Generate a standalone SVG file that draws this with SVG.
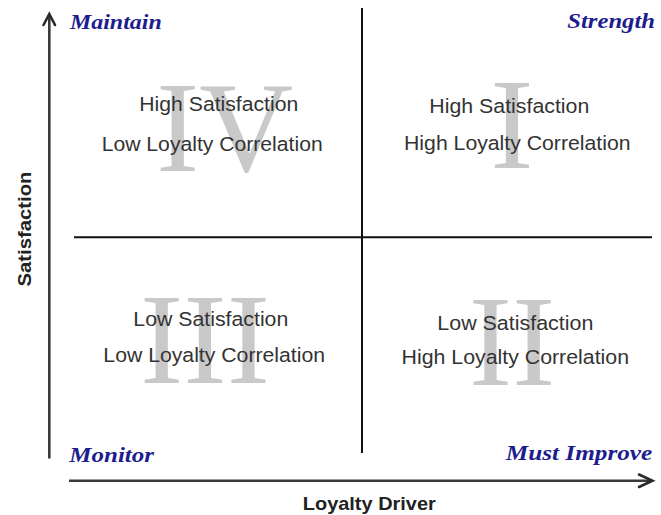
<svg xmlns="http://www.w3.org/2000/svg" width="661" height="515" viewBox="0 0 661 515">
  <defs>
    <style>
      .axis { stroke: #3a3a3a; stroke-width: 2.6; fill: none; }
      .divider { stroke: #111; stroke-width: 2; fill: none; }
      .head { stroke: #2a2a2a; stroke-width: 2.6; fill: none; stroke-linecap: round; stroke-linejoin: miter; }
      .numeral { font-family: "Liberation Serif", "Times New Roman", serif; font-size: 130px; fill: #c9c9c9; text-anchor: middle; }
      .desc { font-family: "Liberation Sans", Arial, sans-serif; font-size: 20.5px; fill: #333; text-anchor: middle; }
      .corner { font-family: "Liberation Serif", "Times New Roman", serif; font-size: 21px; font-weight: bold; font-style: italic; fill: #1d1d8e; }
      .title { font-family: "Liberation Sans", Arial, sans-serif; font-size: 19px; font-weight: bold; fill: #222; text-anchor: middle; }
    </style>
  </defs>
  <rect width="661" height="515" fill="#fff"/>

  <!-- Axes and quadrant dividers -->
  <g id="connectors">
    <line class="axis" x1="49.3" y1="15" x2="49.3" y2="458.5"/>
    <polyline class="head" points="43.5,25 49.3,14 55,25"/>
    <line class="axis" x1="69" y1="480.7" x2="652" y2="480.7"/>
    <polyline class="head" points="639,474.5 652.5,480.7 639,487"/>
    <line class="divider" x1="362" y1="8" x2="362" y2="453"/>
    <line class="divider" x1="74" y1="237.3" x2="652" y2="237.3"/>
  </g>

  <!-- Quadrant I: top right -->
  <g id="quadrant-1">
    <text class="numeral" x="512" y="168">I</text>
    <text class="desc" x="509.3" y="113.3" textLength="160" lengthAdjust="spacingAndGlyphs">High Satisfaction</text>
    <text class="desc" x="517.3" y="150" textLength="226.5" lengthAdjust="spacingAndGlyphs">High Loyalty Correlation</text>
  </g>

  <!-- Quadrant II: bottom right -->
  <g id="quadrant-2">
    <text class="numeral" x="512" y="385">II</text>
    <text class="desc" x="515.3" y="330" textLength="156" lengthAdjust="spacingAndGlyphs">Low Satisfaction</text>
    <text class="desc" x="515.3" y="364.3" textLength="227.5" lengthAdjust="spacingAndGlyphs">High Loyalty Correlation</text>
  </g>

  <!-- Quadrant III: bottom left -->
  <g id="quadrant-3">
    <text class="numeral" x="205" y="382.7">III</text>
    <text class="desc" x="210.8" y="326" textLength="155" lengthAdjust="spacingAndGlyphs">Low Satisfaction</text>
    <text class="desc" x="214.2" y="361.7" textLength="221.7" lengthAdjust="spacingAndGlyphs">Low Loyalty Correlation</text>
  </g>

  <!-- Quadrant IV: top left -->
  <g id="quadrant-4">
    <text class="numeral" x="224.5" y="170.7">IV</text>
    <text class="desc" x="218.8" y="111" textLength="159" lengthAdjust="spacingAndGlyphs">High Satisfaction</text>
    <text class="desc" x="212.2" y="150.7" textLength="221" lengthAdjust="spacingAndGlyphs">Low Loyalty Correlation</text>
  </g>

  <!-- Corner categories -->
  <g id="label-maintain"><text class="corner" x="70" y="29.3" textLength="91.7" lengthAdjust="spacingAndGlyphs">Maintain</text></g>
  <g id="label-strength"><text class="corner" x="567.3" y="28.3" textLength="87.7" lengthAdjust="spacingAndGlyphs">Strength</text></g>
  <g id="label-monitor"><text class="corner" x="69.3" y="461.7" textLength="84.7" lengthAdjust="spacingAndGlyphs">Monitor</text></g>
  <g id="label-must-improve"><text class="corner" x="505.7" y="460" textLength="146.6" lengthAdjust="spacingAndGlyphs">Must Improve</text></g>

  <!-- Axis titles -->
  <g id="axis-satisfaction"><text class="title" transform="translate(30.5,229) rotate(-90)" x="0" y="0" textLength="115" lengthAdjust="spacingAndGlyphs">Satisfaction</text></g>
  <g id="axis-loyalty-driver"><text class="title" x="369.3" y="510" textLength="133" lengthAdjust="spacingAndGlyphs">Loyalty Driver</text></g>
</svg>
